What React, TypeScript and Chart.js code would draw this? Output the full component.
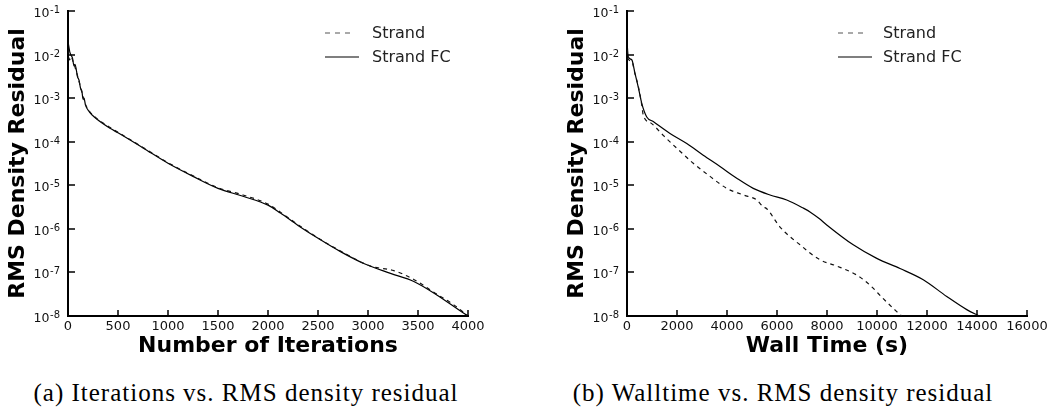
import React, { useEffect, useRef } from 'react';
import { Chart, registerables } from 'chart.js';

Chart.register(...registerables);

// ---- axis ticks -------------------------------------------------------
const yTickExponents = [-8, -7, -6, -5, -4, -3, -2, -1];
const yTickBase = '10';
const yTickPowers = ['-8', '-7', '-6', '-5', '-4', '-3', '-2', '-1'];

// ---- (a) residual vs. iterations -------------------------------------
const iterFCSteps = [0, 20, 45, 60, 70, 95, 110, 125, 140, 150, 160, 175, 215, 275, 425, 500, 750, 1000, 1250, 1500, 1750, 2000, 2125, 2300, 2525, 2725, 2958, 3225, 3458, 3692, 3958, 4000];
const iterFCResidual = [2.0e-2, 1.1e-2, 8.3e-3, 5.5e-3, 6.0e-3, 3.1e-3, 2.6e-3, 1.7e-3, 1.4e-3, 9.5e-4, 1.0e-3, 6.9e-4, 4.8e-4, 3.5e-4, 2.0e-4, 1.6e-4, 7.2e-5, 3.2e-5, 1.6e-5, 8.5e-6, 5.6e-6, 3.5e-6, 2.3e-6, 1.2e-6, 5.6e-7, 3.0e-7, 1.6e-7, 9.5e-8, 6.2e-8, 3.0e-8, 1.15e-8, 1.0e-8];

const iterStrandSteps = [0, 15, 30, 50, 95, 125, 150, 175, 215, 275, 425, 500, 750, 1000, 1250, 1500, 1750, 2000, 2125, 2300, 2525, 2725, 3025, 3258, 3458, 3658, 3858, 4000];
const iterStrandResidual = [1.3e-2, 7.5e-3, 9.0e-3, 7.0e-3, 3.3e-3, 1.8e-3, 1.1e-3, 7.2e-4, 5.0e-4, 3.6e-4, 2.1e-4, 1.65e-4, 7.4e-5, 3.3e-5, 1.65e-5, 8.8e-6, 6.0e-6, 3.7e-6, 2.4e-6, 1.25e-6, 5.7e-7, 3.1e-7, 1.4e-7, 1.1e-7, 6.9e-8, 3.5e-8, 1.8e-8, 1.0e-8];

// ---- (b) residual vs. wall time --------------------------------------
const timeFCSeconds = [0, 50, 190, 320, 450, 590, 790, 1050, 1720, 2390, 3050, 3720, 4390, 5050, 5720, 6390, 7050, 7320, 7700, 7990, 9050, 9990, 10920, 11850, 12790, 13590, 14100];
const timeFCResidual = [2.0e-2, 8.9e-3, 7.6e-3, 3.7e-3, 1.8e-3, 7.6e-4, 3.7e-4, 2.9e-4, 1.55e-4, 9.1e-5, 4.9e-5, 2.7e-5, 1.45e-5, 8.5e-6, 6.0e-6, 4.6e-6, 3.0e-6, 2.45e-6, 1.7e-6, 1.23e-6, 4.3e-7, 2.1e-7, 1.23e-7, 6.8e-8, 2.8e-8, 1.4e-8, 1.0e-8];

const timeStrandSeconds = [0, 50, 190, 320, 450, 590, 650, 990, 1450, 1990, 2650, 3320, 3990, 4650, 5190, 5450, 5590, 6120, 6920, 7720, 8390, 9190, 9720, 10250, 10790, 10990];
const timeStrandResidual = [1.3e-2, 7.8e-3, 7.0e-3, 3.6e-3, 1.9e-3, 7.0e-4, 4.1e-4, 2.6e-4, 1.4e-4, 7.1e-5, 3.2e-5, 1.6e-5, 8.5e-6, 6.0e-6, 4.6e-6, 3.2e-6, 2.9e-6, 1.1e-6, 4.3e-7, 1.95e-7, 1.4e-7, 8.7e-8, 5.1e-8, 2.5e-8, 1.26e-8, 1.0e-8];

const seriesNames = ['Strand', 'Strand FC'];

const FONT = "'DejaVu Sans', sans-serif";
const CANVAS_H = 375;
const PLOT_LEFT = 68;
const PLOT_TOP = 11;
const PLOT_BOTTOM = 316;
const PLOT_RIGHT = 468;

// inward tick marks plus "10^n" labels with a raised exponent
const logAxisDecor = {
  id: 'logAxisDecor',
  afterDraw(chart: any) {
    const { ctx, chartArea } = chart;
    const xs = chart.scales.x;
    const ys = chart.scales.y;
    ctx.save();
    ctx.strokeStyle = '#000';
    ctx.lineWidth = 1.5;
    ctx.beginPath();
    xs.ticks.forEach((t: any) => {
      const px = Math.round(xs.getPixelForValue(t.value));
      ctx.moveTo(px, chartArea.bottom);
      ctx.lineTo(px, chartArea.bottom - 6);
    });
    ys.ticks.forEach((t: any) => {
      const py = Math.round(ys.getPixelForValue(t.value));
      ctx.moveTo(chartArea.left, py);
      ctx.lineTo(chartArea.left + 7, py);
    });
    ctx.stroke();

    ctx.fillStyle = '#111';
    ctx.textBaseline = 'alphabetic';
    const rightEdge = chartArea.left - 8;
    ys.ticks.forEach((t: any) => {
      const idx = yTickExponents.indexOf(Math.round(Math.log10(t.value)));
      if (idx < 0) return;
      const py = ys.getPixelForValue(t.value);
      ctx.font = `10px ${FONT}`;
      const pw = ctx.measureText(yTickPowers[idx]).width;
      ctx.textAlign = 'left';
      ctx.fillText(yTickPowers[idx], rightEdge - pw, py + 2);
      ctx.font = `12.5px ${FONT}`;
      ctx.textAlign = 'right';
      ctx.fillText(yTickBase, rightEdge - pw - 0.5, py + 6);
    });
    ctx.restore();
  },
};

function toPoints(xs: number[], ys: number[]) {
  return xs.map((x, i) => ({ x, y: ys[i] }));
}

function makeConfig(
  strandX: number[], strandY: number[], fcX: number[], fcY: number[],
  xMax: number, xStep: number, xTitle: string, canvasW: number,
): any {
  return {
    type: 'line',
    data: {
      datasets: [
        {
          label: seriesNames[0],
          data: toPoints(strandX, strandY),
          borderColor: '#111',
          borderWidth: 1.2,
          borderDash: [4, 4],
          pointRadius: 0,
          cubicInterpolationMode: 'monotone',
        },
        {
          label: seriesNames[1],
          data: toPoints(fcX, fcY),
          borderColor: '#000',
          borderWidth: 1.2,
          pointRadius: 0,
          cubicInterpolationMode: 'monotone',
        },
      ],
    },
    options: {
      animation: false,
      responsive: false,
      devicePixelRatio: 1,
      layout: { padding: { left: 0, top: PLOT_TOP, right: canvasW - PLOT_RIGHT, bottom: 0 } },
      plugins: { legend: { display: false }, tooltip: { enabled: false } },
      scales: {
        x: {
          type: 'linear',
          min: 0,
          max: xMax,
          ticks: {
            stepSize: xStep,
            autoSkip: false,
            maxRotation: 0,
            padding: 3,
            color: '#111',
            font: { family: FONT, size: 13 },
            callback: (v: number) => String(v),
          },
          grid: { display: false, drawTicks: false },
          border: { display: true, color: '#000', width: 2 },
          title: {
            display: true,
            text: xTitle,
            color: '#000',
            font: { family: FONT, size: 22, weight: 'bold' },
            padding: { top: 0, bottom: 16 },
          },
          afterFit: (s: any) => { s.height = CANVAS_H - PLOT_BOTTOM; },
        },
        y: {
          type: 'logarithmic',
          min: 1e-8,
          max: 1e-1,
          afterBuildTicks: (s: any) => {
            s.ticks = yTickExponents.map((e) => ({ value: Math.pow(10, e) }));
          },
          ticks: { display: false, autoSkip: false },
          grid: { display: false, drawTicks: false },
          border: { display: true, color: '#000', width: 2 },
          title: {
            display: true,
            text: 'RMS Density Residual',
            color: '#000',
            font: { family: FONT, size: 22, weight: 'bold' },
            padding: { top: 5, bottom: 0 },
          },
          afterFit: (s: any) => { s.width = PLOT_LEFT; },
        },
      },
    },
    plugins: [logAxisDecor],
  };
}

function LineChart(props: { config: any; width: number; left: number }) {
  const ref = useRef<HTMLCanvasElement | null>(null);
  useEffect(() => {
    if (!ref.current) return;
    const chart = new Chart(ref.current, props.config);
    return () => chart.destroy();
  }, []);
  return (
    <div style={{ position: 'absolute', left: props.left, top: 0, width: props.width, height: CANVAS_H }}>
      <canvas ref={ref} width={props.width} height={CANVAS_H} style={{ width: props.width, height: CANVAS_H, display: 'block' }} />
    </div>
  );
}

function Legend(props: { left: number; textLeft: number }) {
  const rows = [
    { name: seriesNames[0], dashed: true, y: 33, len: 28 },
    { name: seriesNames[1], dashed: false, y: 57, len: 34 },
  ];
  return (
    <>
      {rows.map((r) => (
        <React.Fragment key={r.name}>
          <svg style={{ position: 'absolute', left: props.left, top: r.y - 2 }} width={40} height={4}>
            <line x1={0} y1={2} x2={r.len} y2={2} stroke={r.dashed ? '#555' : '#000'} strokeWidth={1.2} strokeDasharray={r.dashed ? '5 5' : undefined} />
          </svg>
          <div style={{ position: 'absolute', left: props.textLeft, top: r.y - 10, height: 20, lineHeight: '20px', fontFamily: FONT, fontSize: 16, color: '#222', whiteSpace: 'nowrap' }}>
            {r.name}
          </div>
        </React.Fragment>
      ))}
    </>
  );
}

function Caption(props: { center: number; text: string }) {
  return (
    <div style={{ position: 'absolute', left: props.center - 300, width: 600, top: 378, height: 30, lineHeight: '30px', textAlign: 'center', fontFamily: "'Liberation Serif', serif", fontSize: 25, letterSpacing: 1, color: '#000', whiteSpace: 'nowrap' }}>
      {props.text}
    </div>
  );
}

export default function App() {
  const iterConfig = makeConfig(iterStrandSteps, iterStrandResidual, iterFCSteps, iterFCResidual, 4000, 500, 'Number of Iterations', 530);
  const timeConfig = makeConfig(timeStrandSeconds, timeStrandResidual, timeFCSeconds, timeFCResidual, 16000, 2000, 'Wall Time (s)', 494);
  return (
    <div style={{ position: 'absolute', left: 0, top: 0, width: 1053, height: 415, background: '#fff', overflow: 'hidden' }}>
      <LineChart config={iterConfig} width={530} left={0} />
      <LineChart config={timeConfig} width={494} left={559} />
      <Legend left={325} textLeft={372} />
      <Legend left={838} textLeft={883} />
      <Caption center={246} text="(a) Iterations vs. RMS density residual" />
      <Caption center={783} text="(b) Walltime vs. RMS density residual" />
    </div>
  );
}
